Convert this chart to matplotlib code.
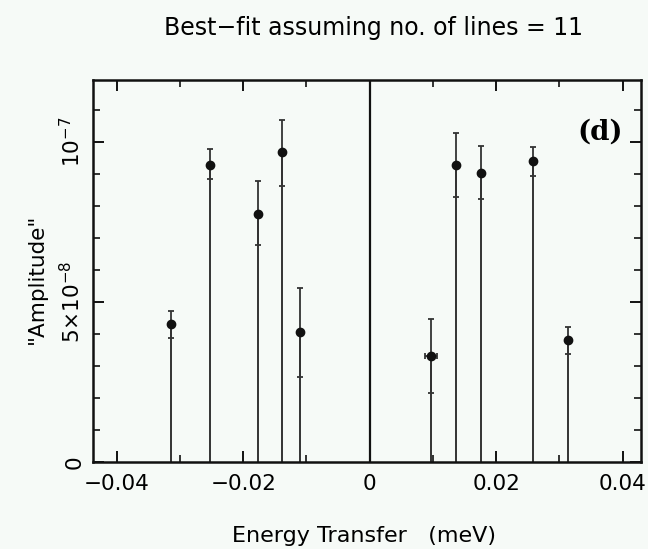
import matplotlib
matplotlib.use("Agg")
import matplotlib.pyplot as plt
from matplotlib.ticker import MultipleLocator, FixedLocator, FixedFormatter
import numpy as np

# Data (energy transfer in meV, amplitude)
energy = [-0.0314, -0.0253, -0.0177, -0.0139, -0.0110,
          0.0097, 0.0136, 0.0176, 0.0259, 0.0313]
amplitude = [4.31e-8, 9.30e-8, 7.77e-8, 9.68e-8, 4.05e-8,
             3.31e-8, 9.30e-8, 9.05e-8, 9.40e-8, 3.81e-8]
err_upper = [4.73e-8, 9.79e-8, 8.79e-8, 10.68e-8, 5.43e-8,
             4.48e-8, 10.29e-8, 9.88e-8, 9.85e-8, 4.23e-8]
err_lower = [3.88e-8, 8.85e-8, 6.78e-8, 8.63e-8, 2.67e-8,
             2.17e-8, 8.30e-8, 8.21e-8, 8.93e-8, 3.38e-8]
x_err = [0, 0, 0, 0, 0, 0.0009, 0, 0, 0, 0]
# central (elastic) line, off scale
central_energy = [0.0]
central_amp = [2.0e-7]

ytick_vals = [0, 5e-8, 1e-7]
ytick_labels = ["0", r"$5{\times}10^{-8}$", r"$10^{-7}$"]
xtick_vals = [-0.04, -0.02, 0, 0.02, 0.04]
xtick_labels = ["\u22120.04", "\u22120.02", "0", "0.02", "0.04"]

fig = plt.figure(figsize=(6.48, 5.49), dpi=100)
fig.patch.set_facecolor("#f6faf7")
ax = fig.add_axes([0.143, 0.1585, 0.846, 0.6955])
ax.set_facecolor("#f6faf7")

amp = np.array(amplitude)
up = np.array(err_upper) - amp
lo = amp - np.array(err_lower)

ax.vlines(energy, 0, amplitude, color="#333333", lw=1.4)
ax.vlines(central_energy, 0, central_amp, color="#111111", lw=1.6)
ax.errorbar(energy, amplitude, yerr=[lo, up], xerr=x_err, fmt="o", ms=6,
            color="#111111", ecolor="#333333", elinewidth=1.3,
            capsize=2.2, capthick=1.3)

ax.set_xlim(-0.0438, 0.0429)
ax.set_ylim(0, 1.194e-7)

ax.xaxis.set_major_locator(FixedLocator(xtick_vals))
ax.xaxis.set_major_formatter(FixedFormatter(xtick_labels))
ax.xaxis.set_minor_locator(MultipleLocator(0.01))
ax.yaxis.set_major_locator(FixedLocator(ytick_vals))
ax.yaxis.set_major_formatter(FixedFormatter(ytick_labels))
ax.yaxis.set_minor_locator(MultipleLocator(1e-8))

ax.tick_params(which="both", direction="in", top=True, right=True, color="#111111")
ax.tick_params(which="major", length=8, width=1.4, labelsize=15.5)
ax.tick_params(axis="x", which="major", pad=9)
ax.tick_params(axis="y", which="major", pad=6)
ax.tick_params(which="minor", length=5, width=1.2)
for lab in ax.get_yticklabels():
    lab.set_rotation(90)
    lab.set_va("center")
for sp in ax.spines.values():
    sp.set_linewidth(1.8)
    sp.set_color("#111111")

ax.text(-0.102, 0.48, '"Amplitude"', transform=ax.transAxes, rotation=90,
        ha="center", va="center", fontsize=15.5)

ax.text(0.925, 0.864, "(d)", transform=ax.transAxes, fontsize=20,
        fontweight="bold", family="DejaVu Serif", ha="center", va="center")

fig.text(0.576, 0.949, "Best\u2212fit assuming no. of lines = 11",
         ha="center", va="center", fontsize=17)
fig.text(0.562, 0.024, "Energy Transfer   (meV)", ha="center", va="center",
         fontsize=16)

fig.savefig("out.png", dpi=100, facecolor=fig.get_facecolor())
